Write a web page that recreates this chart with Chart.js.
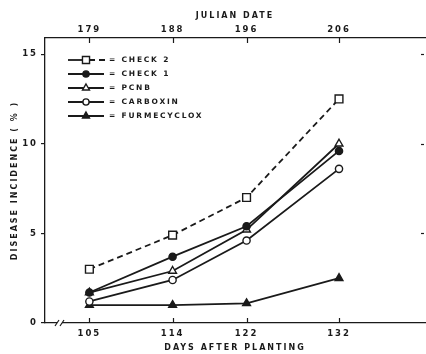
<!DOCTYPE html>
<html>
<head>
<meta charset="utf-8">
<script src="https://cdn.jsdelivr.net/npm/chart.js@4.4.0/dist/chart.umd.min.js"></script>
<style>
  html, body { margin: 0; padding: 0; background: #fff; }
  #grafico { display: block; }
</style>
</head>
<body>
<canvas id="grafico" width="426" height="354"></canvas>
<script>
// days after planting and matching julian dates
var days = [105, 114, 122, 132];
var julianDates = [179, 188, 196, 206];
var yTicks = [0, 5, 10, 15];

// disease incidence (%)
var check2 = [3.0, 4.9, 7.0, 12.5];
var check1 = [1.7, 3.7, 5.4, 9.6];
var pcnb = [1.7, 2.9, 5.2, 10.0];
var carboxin = [1.2, 2.4, 4.6, 8.6];
var furmecyclox = [1.0, 1.0, 1.1, 2.5];

var ink = '#1a1a1a';
var FONT = 'DejaVu Sans';

function pts(vals) {
    return vals.map(function (v, i) { return { x: days[i], y: v }; });
}

function serie(label, vals, style, filled, radius, dash) {
    return {
        label: label,
        data: pts(vals),
        borderColor: ink,
        borderWidth: 1.8,
        borderDash: dash || [],
        pointStyle: style,
        pointRadius: radius,
        pointBorderWidth: 1.4,
        pointBorderColor: ink,
        pointBackgroundColor: filled ? ink : '#fff',
        tension: 0
    };
}

// no extra side padding on the horizontal axes
function fitX(h) {
    return function (s) { s.height = h; s.paddingLeft = 0; s.paddingRight = 0; };
}

// tweaks: letter spacing, inward ticks, axis break, legend
var decor = {
    id: 'decor',
    beforeUpdate: function (chart) { chart.ctx.letterSpacing = '2px'; },
    beforeDraw: function (chart) { chart.ctx.letterSpacing = '2px'; },
    afterDraw: function (chart) {
        var ctx = chart.ctx;
        var a = chart.chartArea;
        var xs = chart.scales.x;
        var ys = chart.scales.y;
        ctx.save();
        ctx.strokeStyle = ink;
        ctx.lineWidth = 1.2;
        ctx.setLineDash([]);
        // inward ticks on top and bottom axes
        days.forEach(function (d) {
            var px = Math.round(xs.getPixelForValue(d)) + 0.5;
            ctx.beginPath();
            ctx.moveTo(px, a.bottom); ctx.lineTo(px, a.bottom - 5);
            ctx.moveTo(px, a.top); ctx.lineTo(px, a.top + 5);
            ctx.stroke();
        });
        // small ticks on the right side
        yTicks.slice(1).forEach(function (v) {
            var py = Math.round(ys.getPixelForValue(v)) + 0.5;
            ctx.beginPath();
            ctx.moveTo(a.right - 4, py); ctx.lineTo(a.right - 1, py);
            ctx.stroke();
        });
        // axis break //
        var bx = a.left + 14;
        ctx.fillStyle = '#fff';
        ctx.fillRect(bx - 2, a.bottom - 2, 5, 4);
        ctx.beginPath();
        ctx.moveTo(bx - 4, a.bottom + 3); ctx.lineTo(bx, a.bottom - 3);
        ctx.moveTo(bx + 1, a.bottom + 3); ctx.lineTo(bx + 5, a.bottom - 3);
        ctx.stroke();

        // legend
        var rowY = [60, 74, 88, 102, 116];
        chart.data.datasets.forEach(function (ds, i) {
            var y = rowY[i];
            ctx.strokeStyle = ink;
            ctx.lineWidth = 1.8;
            ctx.beginPath();
            if (ds.borderDash.length) {
                ctx.setLineDash([]);
                ctx.moveTo(68, y); ctx.lineTo(84, y); ctx.stroke();
                ctx.setLineDash(ds.borderDash);
                ctx.beginPath();
                ctx.moveTo(89, y); ctx.lineTo(105, y);
            } else {
                ctx.moveTo(68, y); ctx.lineTo(104, y);
            }
            ctx.stroke();
            ctx.setLineDash([]);
            ctx.lineWidth = 1.4;
            ctx.fillStyle = ds.pointBackgroundColor;
            Chart.helpers.drawPoint(ctx, {
                pointStyle: ds.pointStyle, radius: ds.pointRadius - 0.5, rotation: 0, borderWidth: 1.4
            }, 86, y);
            ctx.fillStyle = ink;
            ctx.font = 'bold 7.5px "' + FONT + '"';
            ctx.letterSpacing = '1.8px';
            ctx.textBaseline = 'middle';
            ctx.textAlign = 'left';
            ctx.fillText('= ' + ds.label, 109, y + 0.5);
        });
        ctx.restore();
    }
};

var ctx = document.getElementById('grafico').getContext('2d');
var grafico = new Chart(ctx, {
    type: 'line',
    data: {
        datasets: [
            serie('CHECK 2', check2, 'rect', false, 5.5, [6, 4]),
            serie('CHECK 1', check1, 'circle', true, 3.6),
            serie('PCNB', pcnb, 'triangle', false, 4.5),
            serie('CARBOXIN', carboxin, 'circle', false, 3.6),
            serie('FURMECYCLOX', furmecyclox, 'triangle', true, 4.5)
        ]
    },
    plugins: [decor],
    options: {
        responsive: false,
        animation: false,
        layout: { autoPadding: false, padding: { left: 0, right: 1, top: 0, bottom: 0 } },
        plugins: { legend: { display: false }, tooltip: { enabled: false } },
        scales: {
            x: {
                type: 'linear',
                position: 'bottom',
                min: 100.2,
                max: 141.3,
                afterBuildTicks: function (s) { s.ticks = days.map(function (d) { return { value: d }; }); },
                afterFit: fitX(31),
                grid: { display: false, drawTicks: false },
                border: { display: true, color: ink, width: 1.3 },
                ticks: { color: ink, padding: 6, font: { family: FONT, size: 8.5, weight: 'bold' }, maxRotation: 0 },
                title: {
                    display: true, text: 'DAYS AFTER PLANTING', color: ink,
                    font: { family: FONT, size: 8, weight: 'bold' }, padding: { top: 0, bottom: 1 }
                }
            },
            x2: {
                type: 'linear',
                position: 'top',
                min: 100.2,
                max: 141.3,
                afterBuildTicks: function (s) { s.ticks = days.map(function (d) { return { value: d }; }); },
                afterFit: fitX(38),
                grid: { display: false, drawTicks: false },
                border: { display: true, color: ink, width: 1.3 },
                ticks: {
                    color: ink, padding: 3, font: { family: FONT, size: 8.5, weight: 'bold' }, maxRotation: 0,
                    callback: function (v) { return String(julianDates[days.indexOf(v)]); }
                },
                title: {
                    display: true, text: 'JULIAN DATE', color: ink,
                    font: { family: FONT, size: 8, weight: 'bold' }, padding: { top: 11, bottom: 0 }
                }
            },
            y: {
                min: 0,
                max: 15.9,
                afterBuildTicks: function (s) { s.ticks = yTicks.map(function (v) { return { value: v }; }); },
                afterFit: function (s) { s.width = 45; },
                grid: { drawOnChartArea: false, drawTicks: true, tickLength: 4, color: ink, lineWidth: 1.2 },
                border: { display: true, color: ink, width: 1.3 },
                ticks: { color: ink, padding: 3, font: { family: FONT, size: 8.5, weight: 'bold' } },
                title: {
                    display: true, text: 'DISEASE INCIDENCE ( % )', color: ink,
                    font: { family: FONT, size: 8, weight: 'bold' }, padding: { top: 10, bottom: 0 }
                }
            }
        }
    }
});
</script>
</body>
</html>
